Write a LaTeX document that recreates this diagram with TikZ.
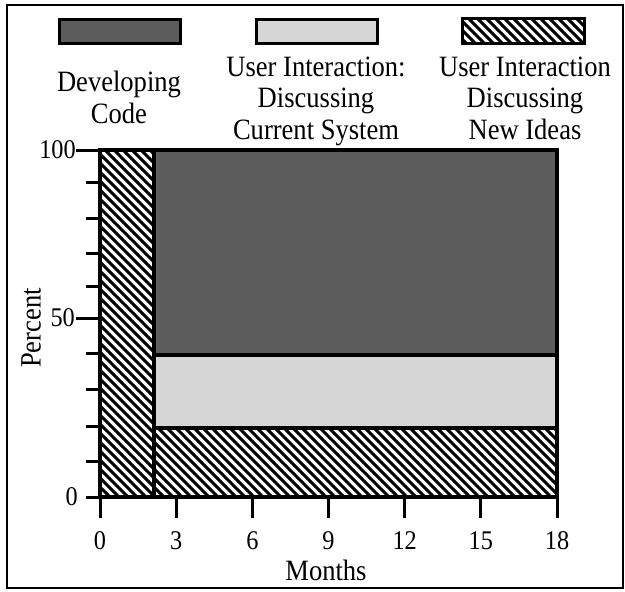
\documentclass[tikz,border=0pt]{standalone}
\usepackage{fontspec}
\setmainfont{Liberation Serif}
\newfontfamily\tallserif[FakeStretch=0.9]{Liberation Serif}
\begin{document}
\begin{tikzpicture}[x=1pt,y=-1pt,
  outline/.style={draw=black,line width=4pt,line join=miter},
  keybox/.style={draw=black,line width=3pt},
  darkfill/.style={fill=black!64},
  lightfill/.style={fill=black!16},
  hatchline/.style={line width=3.1pt,line cap=butt},
  tick/.style={line width=3pt},
  lbl/.style={font=\tallserif\fontsize{29.5}{31.5}\selectfont,align=center,inner sep=0pt},
  num/.style={font=\tallserif\fontsize{27}{30}\selectfont,inner sep=0pt}]
\useasboundingbox (0,0) rectangle (625,592);
% outer frame
\draw[line width=2pt] (7,5) rectangle (623,588);

% diagonal hatching inside a rectangle: #1 = corner, #2 = opposite corner
\newcommand{\hatchrect}[2]{%
  \begin{scope}
    \clip #1 rectangle #2;
    \foreach \k in {-603,-594,...,600}
      \draw[hatchline] (\k,0) -- ++(600,600);
  \end{scope}}

% legend keys
\node[keybox,darkfill,minimum width=121pt,minimum height=24pt,inner sep=0pt] (k1) at (119.5,31) {};
\node[keybox,lightfill,minimum width=121pt,minimum height=24pt,inner sep=0pt] (k2) at (317,31) {};
\node[minimum width=121pt,minimum height=24pt,inner sep=0pt] (k3) at (523.5,31) {};
\hatchrect{(k3.north west)}{(k3.south east)}
\draw[keybox] (k3.north west) rectangle (k3.south east);

% legend texts (anchored at the baseline of the last line)
\node[lbl,anchor=base] (t1) at (119,123) {Developing\\Code};
\node[lbl,anchor=base] (t2) at (316,139) {User Interaction:\\Discussing\\Current System};
\node[lbl,anchor=base] (t3) at (525,139) {User Interaction\\Discussing\\New Ideas};

% chart blocks
\hatchrect{(100,150)}{(154,497)}
\fill[darkfill] (154,150) rectangle (557,355);
\fill[lightfill] (154,355) rectangle (557,428);
\hatchrect{(154,428)}{(557,497)}
\draw[outline] (100,150) rectangle (154,497);
\draw[outline] (154,150) rectangle (557,355);
\draw[outline] (154,355) rectangle (557,428);
\draw[outline] (154,428) rectangle (557,497);

% y axis ticks and labels
\foreach \yy in {182,218,253,286,353,389,426,461,497}
  \draw[tick] (86,\yy) -- (100,\yy);
\foreach \yy in {150,318}
  \draw[tick] (76,\yy) -- (100,\yy);
\node[num,anchor=east] (y100) at (76,150) {100};
\node[num,anchor=east] (y50) at (75,318) {50};
\node[num,anchor=east] (y0) at (78,497) {0};
\node[lbl,rotate=90] (ylab) at (31,328) {Percent};

% x axis ticks and labels
\foreach \m [count=\i from 0] in {0,3,...,18} {
  \draw[tick] (100+\i*76.17,497) -- (100+\i*76.17,518);
  \node[num,anchor=base] at (100+\i*76.17,549) {\m};
}
\node[lbl,anchor=base] (xlab) at (326,580) {Months};
\end{tikzpicture}
\end{document}
